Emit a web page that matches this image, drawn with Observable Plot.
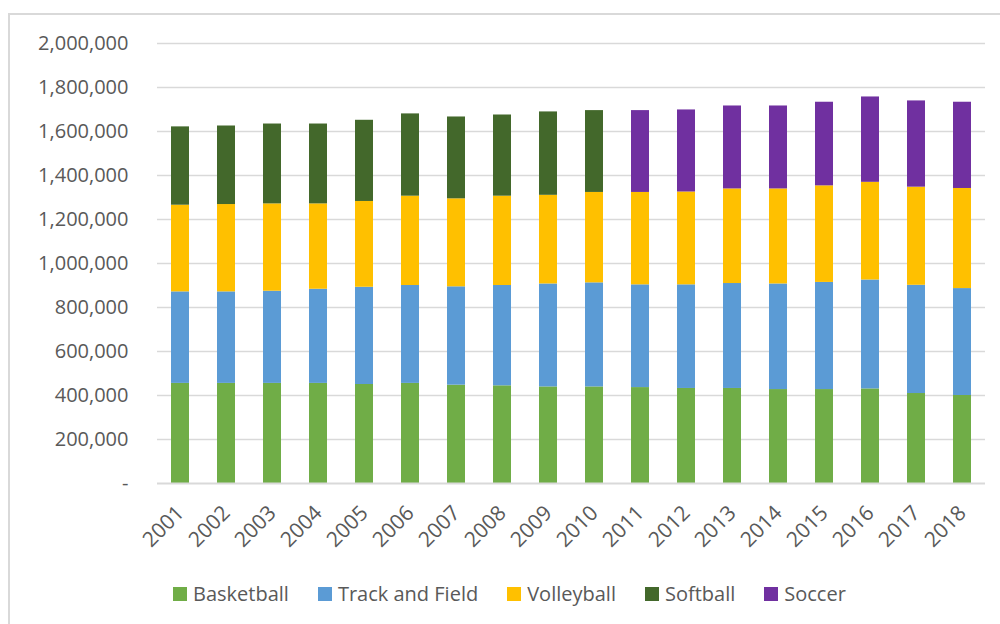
<!DOCTYPE html>
<html>
<head>
<meta charset="utf-8">
<script src="https://cdn.jsdelivr.net/npm/d3@7"></script>
<script src="https://cdn.jsdelivr.net/npm/@observablehq/plot@0.6"></script>
<style>
  html, body { margin: 0; padding: 0; background: #fff; }
  #wrap { position: relative; width: 1000px; height: 624px; overflow: hidden; font-family: "Open Sans", sans-serif; }
  #chart { position: absolute; left: 0; top: 0; }
  #frame { position: absolute; left: 8px; top: 13px; width: 1100px; height: 800px; border: 2px solid #d9d9d9; box-sizing: border-box; pointer-events: none; }
  #legend { position: absolute; left: 173px; top: 580px; display: flex; align-items: center; gap: 29px; font-size: 20px; color: #595959; white-space: nowrap; }
  #legend .item { display: flex; align-items: center; gap: 6px; }
  #legend .sw { width: 14px; height: 14px; display: inline-block; }
</style>
</head>
<body>
<div id="wrap">
  <div id="chart"></div>
  <div id="frame"></div>
  <div id="legend"></div>
</div>
<script>
const years = ["2001","2002","2003","2004","2005","2006","2007","2008","2009","2010","2011","2012","2013","2014","2015","2016","2017","2018"];
const sports = ["Basketball", "Track and Field", "Volleyball", "Softball", "Soccer"];
const sportColors = ["#70AD47", "#5B9BD5", "#FFC000", "#43682B", "#7030A0"];
const basketball = [455000, 455000, 455000, 455000, 450000, 455000, 447000, 444000, 439000, 439000, 436000, 432000, 432000, 427000, 427000, 430000, 409000, 400000];
const trackAndField = [416000, 416000, 419000, 428000, 442000, 445000, 447000, 456000, 468000, 473000, 467000, 471000, 477000, 480000, 487000, 495000, 492000, 486000];
const volleyball = [394000, 397000, 397000, 388000, 390000, 406000, 400000, 406000, 403000, 411000, 420000, 422000, 430000, 432000, 439000, 444000, 446000, 455000];
const softball = [356000, 357000, 363000, 363000, 369000, 374000, 372000, 369000, 379000, 372000, null, null, null, null, null, null, null, null];
const soccer = [null, null, null, null, null, null, null, null, null, null, 372000, 373000, 377000, 377000, 380000, 388000, 392000, 392000];
const yTicks = [0, 200000, 400000, 600000, 800000, 1000000, 1200000, 1400000, 1600000, 1800000, 2000000];

const seriesValues = [basketball, trackAndField, volleyball, softball, soccer];
const rows = [];
sports.forEach((s, i) => {
  years.forEach((y, j) => {
    const v = seriesValues[i][j];
    if (v != null) rows.push({year: y, sport: s, value: v});
  });
});

const fmt = d3.format(",");
const chart = Plot.plot({
  width: 1000,
  height: 560,
  marginTop: 43,
  marginBottom: 77,
  marginLeft: 157,
  marginRight: 15,
  style: {background: "transparent", fontFamily: "'Open Sans', sans-serif", fontSize: "20px", color: "#595959"},
  x: {domain: years, paddingInner: 0.61, paddingOuter: 0.305, label: null},
  y: {domain: [0, 2000000], label: null},
  color: {domain: sports, range: sportColors},
  marks: [
    Plot.ruleY(yTicks.slice(1), {stroke: "#d9d9d9", strokeWidth: 1.5}),
    Plot.barY(rows, Plot.stackY({x: "year", y: "value", fill: "sport", order: sports})),
    Plot.ruleY([0], {stroke: "#d9d9d9", strokeWidth: 2}),
    Plot.axisY({ticks: yTicks, tickSize: 0, tickPadding: 29, tickFormat: d => d === 0 ? "-" : fmt(d), fill: "#595959", label: null, fontSize: 20}),
    Plot.axisX({tickSize: 0, tickPadding: 26, tickRotate: -45, fill: "#595959", label: null, dx: 0, fontSize: 21})
  ]
});
document.getElementById("chart").appendChild(chart);

const legend = document.getElementById("legend");
sports.forEach((s, i) => {
  const item = document.createElement("div");
  item.className = "item";
  const sw = document.createElement("span");
  sw.className = "sw";
  sw.style.background = sportColors[i];
  const t = document.createElement("span");
  t.textContent = s;
  item.appendChild(sw);
  item.appendChild(t);
  legend.appendChild(item);
});
</script>
</body>
</html>
